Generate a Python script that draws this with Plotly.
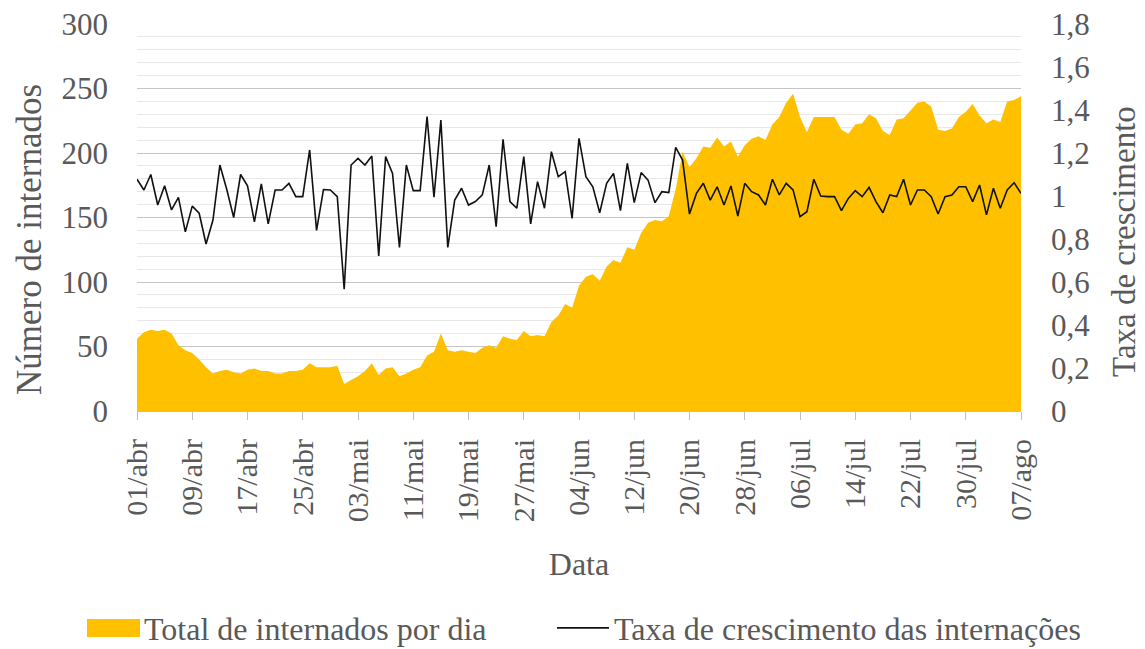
import pandas as pd
import plotly.graph_objects as go

# ---- data ----
dates = pd.date_range("2020-04-01", "2020-08-07", freq="D")

total_internados = [
    56, 61, 63, 62, 63, 60, 51, 47, 45, 40,
    34, 29, 31, 32, 30, 29, 32, 33, 31, 31,
    29, 29, 31, 31, 32, 37, 34, 34, 34, 35,
    21, 24, 27, 31, 37, 28, 33, 34, 27, 29,
    32, 34, 43, 46, 60, 47, 46, 47, 46, 45,
    49, 51, 49, 58, 56, 55, 62, 58, 59, 58,
    69, 74, 83, 80, 97, 104, 106, 101, 112, 117,
    115, 127, 125, 138, 146, 148, 147, 151, 172, 201,
    189, 196, 205, 204, 212, 205, 209, 197, 206, 211,
    213, 210, 222, 228, 239, 246, 228, 216, 228, 228,
    228, 228, 218, 215, 222, 223, 230, 227, 217, 214,
    226, 227, 233, 239, 240, 236, 218, 217, 219, 228,
    232, 238, 229, 223, 226, 224, 240, 241, 244,
]

taxa_crescimento = [
    1.078, 1.028, 1.10, 0.958, 1.048, 0.935, 0.994, 0.833, 0.953, 0.92,
    0.777, 0.888, 1.144, 1.03, 0.90, 1.10, 1.047, 0.88, 1.056, 0.87,
    1.028, 1.028, 1.059, 0.997, 0.997, 1.214, 0.84, 1.03, 1.028, 0.997,
    0.566, 1.144, 1.175, 1.144, 1.186, 0.721, 1.183, 1.105, 0.761, 1.144,
    1.025, 1.025, 1.369, 0.994, 1.353, 0.761, 0.981, 1.036, 0.958, 0.974,
    1.005, 1.144, 0.857, 1.264, 0.974, 0.943, 1.183, 0.870, 1.067, 0.943,
    1.206, 1.090, 1.113, 0.896, 1.268, 1.090, 1.043, 0.922, 1.059, 1.105,
    0.932, 1.152, 0.969, 1.109, 1.074, 0.969, 1.020, 1.016, 1.226, 1.167,
    0.916, 1.012, 1.059, 0.981, 1.043, 0.958, 1.047, 0.907, 1.059, 1.020,
    1.005, 0.958, 1.078, 1.005, 1.059, 1.028, 0.904, 0.927, 1.078, 1.0,
    0.997, 0.997, 0.932, 0.989, 1.025, 0.997, 1.040, 0.974, 0.922, 1.005,
    0.997, 1.078, 0.958, 1.028, 1.028, 0.997, 0.916, 0.997, 1.005, 1.043,
    1.043, 0.974, 1.051, 0.912, 1.036, 0.943, 1.028, 1.062, 1.012,
]

tick_dates = dates[::8]
tick_labels = ["01/abr", "09/abr", "17/abr", "25/abr", "03/mai", "11/mai",
               "19/mai", "27/mai", "04/jun", "12/jun", "20/jun", "28/jun",
               "06/jul", "14/jul", "22/jul", "30/jul", "07/ago"]

FONT = "Liberation Serif"
TXT = "#595959"
GOLD = "#FFC000"

fig = go.Figure()
fig.add_trace(go.Scatter(
    x=dates, y=total_internados, mode="none", fill="tozeroy",
    fillcolor=GOLD, name="Total de internados por dia", yaxis="y",
    legendwidth=403))
fig.add_trace(go.Scatter(
    x=dates, y=taxa_crescimento, mode="lines",
    line=dict(color="#111111", width=1.6),
    name="Taxa de crescimento das internações", yaxis="y2"))

# the page body has an 8px default margin, so the figure is drawn 8px smaller
fig.update_layout(
    width=1137, height=641,
    margin=dict(l=129, r=124, t=16, b=238, autoexpand=False),
    paper_bgcolor="white", plot_bgcolor="white",
    separators=",.",
    font=dict(family=FONT, size=30, color=TXT),
    showlegend=True,
    legend=dict(orientation="h", x=-0.0622, xanchor="left", y=-0.561,
                yanchor="middle", font=dict(size=32, color=TXT),
                itemwidth=52, bgcolor="rgba(0,0,0,0)"),
    xaxis=dict(
        range=[dates[0], dates[-1]], tickvals=tick_dates, ticktext=tick_labels,
        tickangle=-90, ticks="outside", ticklen=8, tickcolor="#bfbfbf",
        showline=True, linecolor="#bfbfbf", linewidth=1, showgrid=False,
        zeroline=False, tickfont=dict(size=30, color=TXT),
        ticklabelstandoff=7,
        title=dict(text="Data", font=dict(size=32, color=TXT), standoff=31),
        automargin=False),
    yaxis=dict(
        range=[0, 300], dtick=50, showgrid=True, gridcolor="#c4c4c4",
        gridwidth=1, zeroline=False, showline=False,
        minor=dict(dtick=10, showgrid=True, gridcolor="#e8e8e8", gridwidth=1),
        tickfont=dict(size=31, color=TXT), ticklabelstandoff=28,
        ticklabeloverflow="allow", automargin=False),
    yaxis2=dict(
        range=[0, 1.8], dtick=0.2, overlaying="y", side="right",
        showgrid=False, zeroline=False, showline=False,
        tickfont=dict(size=31, color=TXT), ticklabelstandoff=29,
        ticklabeloverflow="allow", automargin=False),
    annotations=[
        dict(text="Número de internados", xref="paper", yref="paper",
             x=-0.121, y=0.442, textangle=-90, showarrow=False,
             xanchor="center", yanchor="middle",
             font=dict(family=FONT, size=35, color=TXT)),
        dict(text="Taxa de crescimento", xref="paper", yref="paper",
             x=1.117, y=0.438, textangle=-90, showarrow=False,
             xanchor="center", yanchor="middle",
             font=dict(family=FONT, size=33, color=TXT)),
    ],
    shapes=[
        # thicker key swatch for the area series, on top of its legend icon
        dict(type="rect", xref="paper", yref="paper", layer="above",
             x0=-0.0566, x1=0.0034, y0=-0.584, y1=-0.5375,
             fillcolor=GOLD, line=dict(width=0)),
    ],
)

fig.write_html("out.html")
